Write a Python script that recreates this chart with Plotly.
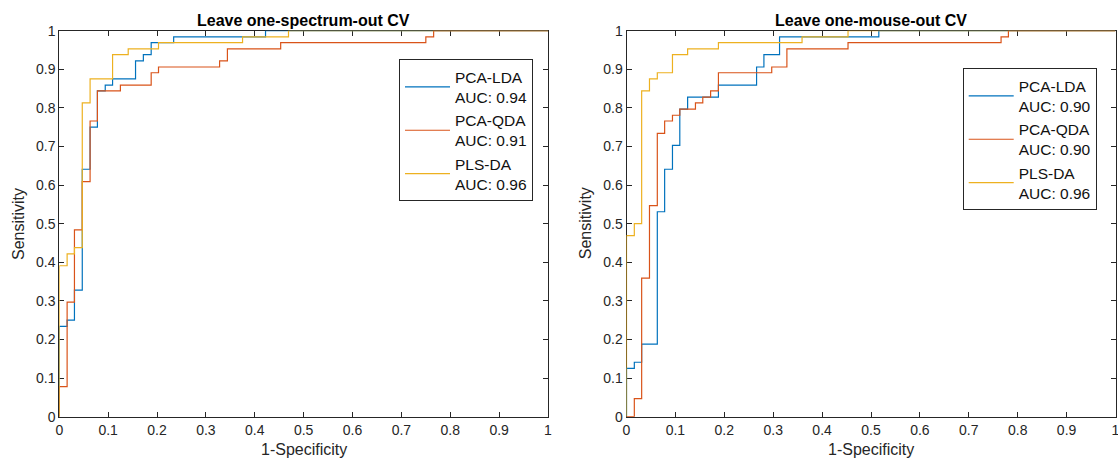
import plotly.graph_objects as go

W, H = 1118, 463

# ---------------- data (ROC step vertices: curve runs horizontally to next x, then rises) -------------
# Leave one-spectrum-out CV
spec_lda_fpr = [0, 0, 0.016, 0.031, 0.047, 0.063, 0.078, 0.094, 0.109, 0.156, 0.172, 0.188, 0.234, 0.422, 1]
spec_lda_tpr = [0, 0.234, 0.25, 0.328, 0.641, 0.75, 0.844, 0.859, 0.875, 0.922, 0.938, 0.969, 0.984, 1, 1]

spec_qda_fpr = [0, 0, 0.016, 0.031, 0.047, 0.063, 0.078, 0.125, 0.188, 0.203, 0.328, 0.344, 0.453, 0.75, 0.766, 1]
spec_qda_tpr = [0, 0.078, 0.297, 0.484, 0.609, 0.766, 0.844, 0.859, 0.891, 0.906, 0.922, 0.953, 0.969, 0.984, 1, 1]

spec_pls_fpr = [0, 0, 0.016, 0.031, 0.047, 0.063, 0.109, 0.141, 0.203, 0.375, 0.469, 1]
spec_pls_tpr = [0, 0.391, 0.422, 0.438, 0.813, 0.875, 0.938, 0.953, 0.969, 0.984, 1, 1]

# Leave one-mouse-out CV
mouse_lda_fpr = [0, 0, 0.016, 0.031, 0.063, 0.078, 0.094, 0.109, 0.125, 0.188, 0.266, 0.281, 0.313, 0.516, 1]
mouse_lda_tpr = [0, 0.125, 0.141, 0.188, 0.531, 0.641, 0.703, 0.797, 0.828, 0.859, 0.906, 0.938, 0.984, 1, 1]

mouse_qda_fpr = [0, 0.016, 0.031, 0.047, 0.063, 0.078, 0.094, 0.109, 0.141, 0.156, 0.172, 0.188, 0.297, 0.328, 0.453, 0.766, 0.781, 1]
mouse_qda_tpr = [0, 0.047, 0.359, 0.547, 0.734, 0.766, 0.781, 0.797, 0.813, 0.828, 0.844, 0.891, 0.906, 0.953, 0.969, 0.984, 1, 1]

mouse_pls_fpr = [0, 0, 0.016, 0.031, 0.047, 0.063, 0.094, 0.125, 0.188, 0.359, 0.453, 1]
mouse_pls_tpr = [0, 0.469, 0.5, 0.844, 0.875, 0.891, 0.938, 0.953, 0.969, 0.984, 1, 1]

method_names = ["PCA-LDA", "PCA-QDA", "PLS-DA"]
spec_auc = ["0.94", "0.91", "0.96"]
mouse_auc = ["0.90", "0.90", "0.96"]
panel_titles = ["Leave one-spectrum-out CV", "Leave one-mouse-out CV"]
tick_vals = [0, 0.1, 0.2, 0.3, 0.4, 0.5, 0.6, 0.7, 0.8, 0.9, 1]
tick_text = ["0", "0.1", "0.2", "0.3", "0.4", "0.5", "0.6", "0.7", "0.8", "0.9", "1"]
x_label = "1-Specificity"
y_label = "Sensitivity"

colors = ["#0072BD", "#D95319", "#EDB120"]
FONT = "Liberation Sans, Arial, sans-serif"
AX = "#262626"

fig = go.Figure()

spec_series = [(spec_lda_fpr, spec_lda_tpr), (spec_qda_fpr, spec_qda_tpr), (spec_pls_fpr, spec_pls_tpr)]
mouse_series = [(mouse_lda_fpr, mouse_lda_tpr), (mouse_qda_fpr, mouse_qda_tpr), (mouse_pls_fpr, mouse_pls_tpr)]

for i, (fx, ty) in enumerate(spec_series):
    fig.add_trace(go.Scatter(x=fx, y=ty, mode="lines", line=dict(color=colors[i], width=1.2, shape="hv"),
                             name=f"{method_names[i]}<br>AUC: {spec_auc[i]}", xaxis="x", yaxis="y",
                             legend="legend"))
for i, (fx, ty) in enumerate(mouse_series):
    fig.add_trace(go.Scatter(x=fx, y=ty, mode="lines", line=dict(color=colors[i], width=1.2, shape="hv"),
                             name=f"{method_names[i]}<br>AUC: {mouse_auc[i]}", xaxis="x2", yaxis="y2",
                             legend="legend2"))

xd1 = [59.3 / W, 548 / W]
xd2 = [626.5 / W, 1115.5 / W]
yd = [46.3 / H, 432.3 / H]

def axis(domain, anchor):
    return dict(domain=domain, anchor=anchor, range=[0, 1], showgrid=False, zeroline=False,
                showline=True, linecolor=AX, linewidth=1, mirror="ticks", ticks="inside",
                ticklen=5, tickcolor=AX, tickwidth=1, tickvals=tick_vals, ticktext=tick_text,
                tickfont=dict(family=FONT, size=14, color=AX), layer="below traces",
                fixedrange=True, automargin=False, ticklabeloverflow="allow")

legend_common = dict(bgcolor="white", bordercolor=AX, borderwidth=1,
                     font=dict(family=FONT, size=15.5, color="#111"),
                     xanchor="right", yanchor="top", tracegroupgap=0, itemwidth=45)

fig.update_layout(
    width=W, height=H, margin=dict(l=0, r=0, t=0, b=0, pad=0, autoexpand=False),
    paper_bgcolor="white", plot_bgcolor="white",
    xaxis=axis(xd1, "y"), yaxis=axis(yd, "x"),
    xaxis2=axis(xd2, "y2"), yaxis2=axis(yd, "x2"),
    legend=dict(x=533 / W, y=1 - 59.3 / H, **legend_common),
    legend2=dict(x=1096.7 / W, y=1 - 68.3 / H, **legend_common),
    showlegend=True,
)

anns = []
for i, dom in enumerate([xd1, xd2]):
    cx = (dom[0] + dom[1]) / 2
    anns.append(dict(text=f"<b>{panel_titles[i]}</b>", x=cx, y=1 - 20 / H, xref="paper", yref="paper",
                     xanchor="center", yanchor="middle", showarrow=False,
                     font=dict(family=FONT, size=16, color="#000")))
    anns.append(dict(text=x_label, x=cx, y=1 - 449 / H, xref="paper", yref="paper",
                     xanchor="center", yanchor="middle", showarrow=False,
                     font=dict(family=FONT, size=16, color=AX)))
    anns.append(dict(text=y_label, x=(dom[0] * W - 41) / W, y=(yd[0] + yd[1]) / 2, xref="paper", yref="paper",
                     xanchor="center", yanchor="middle", showarrow=False, textangle=-90,
                     font=dict(family=FONT, size=16, color=AX)))
fig.update_layout(annotations=anns)

fig.write_html("out.html")
